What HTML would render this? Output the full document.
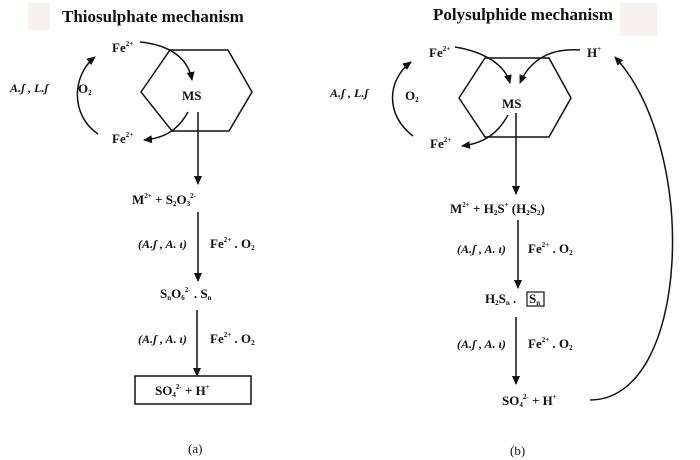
<!DOCTYPE html>
<html><head><meta charset="utf-8"><style>
html,body{margin:0;padding:0;background:#fff;}
svg{display:block;}
text{font-family:"Liberation Serif",serif;font-weight:bold;fill:#111;}
.s{font-size:13px;}
.t{font-size:17px;}
.i{font-style:italic;font-size:12px;}
.sup{font-size:7px;}
</style></head><body>
<svg width="700" height="460" viewBox="0 0 700 460" xmlns="http://www.w3.org/2000/svg">
<defs><marker id="a" markerWidth="10" markerHeight="10" refX="8" refY="4" orient="auto" markerUnits="userSpaceOnUse"><path d="M0,0 L9,4 L0,8 z" fill="#111"/></marker></defs>
<rect x="28" y="3" width="22" height="27" fill="#f6f0ef"/>
<rect x="620" y="3" width="37" height="33" fill="#f6f0ef"/>
<g stroke="#111" stroke-width="1.5" fill="none">
<polygon points="141,92 170,50 228,50 252,92 229,131 172,131"/>
<path d="M98,134 C70,115 72,75 95,57" marker-end="url(#a)"/>
<path d="M140,42 C170,45 188,58 192,80" marker-end="url(#a)"/>
<path d="M188,112 C178,130 165,138 144,140" marker-end="url(#a)"/>
<line x1="198" y1="112" x2="198" y2="184" marker-end="url(#a)"/>
<line x1="198" y1="212" x2="198" y2="281" marker-end="url(#a)"/>
<line x1="197" y1="310" x2="197" y2="376" marker-end="url(#a)"/>
<rect x="135" y="376" width="116" height="28"/>
<polygon points="459,98 485,58 549,58 571,98 549,137 485,137"/>
<path d="M413,136 C385,115 387,80 411,62" marker-end="url(#a)"/>
<path d="M455,47 C485,52 505,65 510,83" marker-end="url(#a)"/>
<path d="M580,50 C550,48 530,60 520,83" marker-end="url(#a)"/>
<path d="M508,115 C498,133 485,143 462,146" marker-end="url(#a)"/>
<line x1="516" y1="113" x2="516" y2="194" marker-end="url(#a)"/>
<line x1="518" y1="220" x2="518" y2="288" marker-end="url(#a)"/>
<line x1="516" y1="317" x2="516" y2="384" marker-end="url(#a)"/>
<rect x="527" y="292" width="17" height="14" stroke-width="1.2"/>
<path d="M590,400 C690,400 700,150 615,57" marker-end="url(#a)"/>
</g>
<text class="t" x="62" y="22">Thiosulphate mechanism</text>
<text class="s" x="112" y="52">Fe<tspan class="sup" dy="-6">2+</tspan></text>
<text class="s" x="112" y="143">Fe<tspan class="sup" dy="-6">2+</tspan></text>
<text class="i" x="10" y="92">A.ʃ , L.ʃ</text>
<text class="s" x="78" y="93">O<tspan class="sup" dy="2">2</tspan></text>
<text class="s" x="182" y="100">MS</text>
<text class="s" x="132" y="204">M<tspan class="sup" dy="-6">2+</tspan><tspan dy="6">  +  </tspan> S<tspan class="sup" dy="2">2</tspan><tspan dy="-2">O</tspan><tspan class="sup" dy="2">3</tspan><tspan class="sup" dy="-8">2-</tspan></text>
<text class="i" x="138" y="248">(A.ʃ , A. ι)</text>
<text class="s" x="210" y="248">Fe<tspan class="sup" dy="-6">2+</tspan><tspan dy="6"> . O</tspan><tspan class="sup" dy="2">2</tspan></text>
<text class="s" x="160" y="298">S<tspan class="sup" dy="2">n</tspan><tspan dy="-2">O</tspan><tspan class="sup" dy="2">6</tspan><tspan class="sup" dy="-8">2-</tspan><tspan dy="6"> . S</tspan><tspan class="sup" dy="2">n</tspan></text>
<text class="i" x="138" y="343">(A.ʃ , A. ι)</text>
<text class="s" x="210" y="343">Fe<tspan class="sup" dy="-6">2+</tspan><tspan dy="6"> . O</tspan><tspan class="sup" dy="2">2</tspan></text>
<text class="s" x="155" y="395">SO<tspan class="sup" dy="2">4</tspan><tspan class="sup" dy="-8">2-</tspan><tspan dy="6">  +  H</tspan><tspan class="sup" dy="-6">+</tspan></text>
<text class="s" x="188" y="453" style="font-weight:normal">(a)</text>
<text class="t" x="433" y="20">Polysulphide mechanism</text>
<text class="s" x="429" y="57">Fe<tspan class="sup" dy="-6">2+</tspan></text>
<text class="s" x="587" y="57">H<tspan class="sup" dy="-6">+</tspan></text>
<text class="s" x="430" y="148">Fe<tspan class="sup" dy="-6">2+</tspan></text>
<text class="i" x="330" y="97">A.ʃ , L.ʃ</text>
<text class="s" x="405" y="100">O<tspan class="sup" dy="2">2</tspan></text>
<text class="s" x="502" y="108">MS</text>
<text class="s" x="450" y="213">M<tspan class="sup" dy="-6">2+</tspan><tspan dy="6">  +  H</tspan><tspan class="sup" dy="2">2</tspan><tspan dy="-2">S</tspan><tspan class="sup" dy="-6">+</tspan><tspan dy="6"> (H</tspan><tspan class="sup" dy="2">2</tspan><tspan dy="-2">S</tspan><tspan class="sup" dy="2">2</tspan><tspan dy="-2">)</tspan></text>
<text class="i" x="457" y="253">(A.ʃ , A. ι)</text>
<text class="s" x="528" y="253">Fe<tspan class="sup" dy="-6">2+</tspan><tspan dy="6"> . O</tspan><tspan class="sup" dy="2">2</tspan></text>
<text class="s" x="485" y="303">H<tspan class="sup" dy="2">2</tspan><tspan dy="-2">S</tspan><tspan class="sup" dy="2">n</tspan><tspan dy="-2"> . </tspan></text>
<text class="s" x="529" y="303">S<tspan class="sup" dy="2">n</tspan></text>
<text class="i" x="457" y="348">(A.ʃ , A. ι)</text>
<text class="s" x="528" y="348">Fe<tspan class="sup" dy="-6">2+</tspan><tspan dy="6"> . O</tspan><tspan class="sup" dy="2">2</tspan></text>
<text class="s" x="502" y="405">SO<tspan class="sup" dy="2">4</tspan><tspan class="sup" dy="-8">2-</tspan><tspan dy="6">  +  H</tspan><tspan class="sup" dy="-6">+</tspan></text>
<text class="s" x="510" y="455" style="font-weight:normal">(b)</text>
</svg>
</body></html>
